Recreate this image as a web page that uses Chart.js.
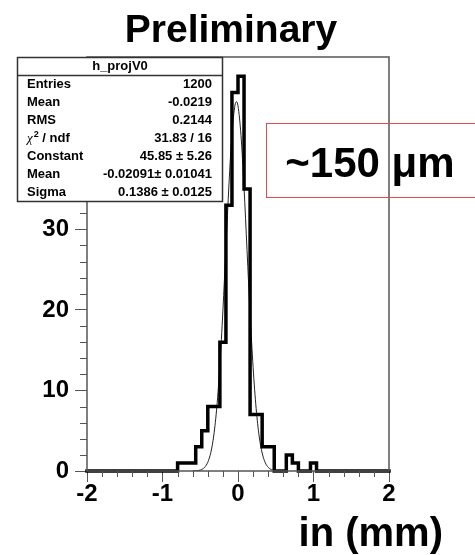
<!DOCTYPE html>
<html><head><meta charset="utf-8">
<script src="https://cdn.jsdelivr.net/npm/chart.js@4.4.0/dist/chart.umd.min.js"></script>
<style>html,body{margin:0;padding:0;background:#fff;overflow:hidden}</style>
</head><body>
<canvas id="c" width="475" height="555"></canvas>
<script>
// ---- data ----
const binLowEdges = [-2.00,-1.92,-1.84,-1.76,-1.68,-1.60,-1.52,-1.44,-1.36,-1.28,-1.20,-1.12,-1.04,-0.96,-0.88,
  -0.80,-0.72,-0.64,-0.56,-0.48,-0.40,-0.32,-0.24,-0.16,-0.08,
  0.00,0.08,0.16,0.24,0.32,0.40,0.48,0.56,0.64,0.72,0.80,0.88,0.96,1.04,1.12,1.20,1.28,1.36,1.44,1.52,1.60,1.68,1.76,1.84,1.92];
const binCounts = [0,0,0,0,0,0,0,0,0,0,0,0,0,0,0,
  1,1,1,3,5,8,8,16,33,47,
  49,35,7,7,3,3,0,0,2,1,0,0,1,0,0,0,0,0,0,0,0,0,0,0,0];
const histUpperEdge = 2.0;
const fitX = [-0.60,-0.56,-0.52,-0.48,-0.44,-0.40,-0.36,-0.32,-0.28,-0.24,-0.20,-0.16,-0.12,-0.08,-0.04,-0.02,0.00,0.04,0.08,0.12,0.16,0.20,0.24,0.28,0.32,0.36,0.40,0.44,0.48,0.52,0.56];
const fitY = [0.01,0.02,0.07,0.19,0.47,1.09,2.30,4.47,7.99,13.14,19.89,27.71,35.51,41.87,45.41,45.85,45.33,41.63,35.18,27.35,19.56,12.88,7.80,4.34,2.23,1.05,0.46,0.18,0.07,0.02,0.01];
const xMajorTicks = [-2,-1,0,1,2];
const xMinorTicks = [-1.8,-1.6,-1.4,-1.2,-0.8,-0.6,-0.4,-0.2,0.2,0.4,0.6,0.8,1.2,1.4,1.6,1.8];
const yMajorTicks = [0,10,20,30,40,50];
const yMinorTicks = [2,4,6,8,12,14,16,18,22,24,26,28,32,34,36,38,42,44,46,48];
const xRange = [-2, 2];
const yRange = [0, 51.4];
const histName = 'h_projV0';
const statLabels = ['Entries','Mean','RMS','χ2 / ndf','Constant','Mean','Sigma'];
const statValues = ['1200','-0.0219','0.2144','31.83 / 16','45.85 ± 5.26','-0.02091± 0.01041','0.1386 ± 0.0125'];
const titleText = 'Preliminary';
const xAxisTitle = 'in (mm)';
const annotationText = '~150 μm';

// ---- build datasets ----
const histPoints = binLowEdges.map((e, i) => ({x: e, y: binCounts[i]}));
histPoints.push({x: histUpperEdge, y: binCounts[binCounts.length - 1]});
const fitPoints = fitX.map((x, i) => ({x: x, y: fitY[i]}));

const FONT = '"Liberation Sans", Arial, Helvetica, sans-serif';

const decor = {
  id: 'decor',
  afterDatasetsDraw(chart) {
    const ctx = chart.ctx, a = chart.chartArea;
    const xs = chart.scales.x, ys = chart.scales.y;
    ctx.save();
    ctx.strokeStyle = '#555';
    ctx.lineWidth = 1.5;
    ctx.strokeRect(a.left, a.top, a.right - a.left, a.bottom - a.top);
    ctx.lineWidth = 1;
    ctx.beginPath();
    xMinorTicks.forEach(v => {
      const px = Math.round(xs.getPixelForValue(v)) + 0.5;
      ctx.moveTo(px, a.bottom); ctx.lineTo(px, a.bottom + 6);
    });
    yMinorTicks.forEach(v => {
      const py = Math.round(ys.getPixelForValue(v)) + 0.5;
      ctx.moveTo(a.left, py); ctx.lineTo(a.left - 7, py);
    });
    ctx.stroke();
    ctx.restore();
  },
  afterDraw(chart) {
    const ctx = chart.ctx;
    ctx.save();
    // stats box
    const bx = 17.5, by = 57.5, bw = 205, bh = 144;
    ctx.fillStyle = '#fff';
    ctx.fillRect(bx, by, bw, bh);
    ctx.strokeStyle = '#333';
    ctx.lineWidth = 1.5;
    ctx.strokeRect(bx, by, bw, bh);
    ctx.beginPath(); ctx.moveTo(bx, 75.5); ctx.lineTo(bx + bw, 75.5); ctx.stroke();
    ctx.fillStyle = '#000';
    ctx.textBaseline = 'middle';
    ctx.font = 'bold 13px ' + FONT;
    ctx.textAlign = 'center';
    ctx.fillText(histName, bx + bw / 2, 66);
    statLabels.forEach((lab, i) => {
      const y = 84 + i * 18.05;
      ctx.textAlign = 'left';
      if (lab.startsWith('χ')) {
        ctx.font = 'italic 13px "Liberation Serif", serif';
        ctx.fillText('χ', 27, y);
        let w = ctx.measureText('χ').width;
        ctx.font = 'bold 9px ' + FONT;
        ctx.fillText(lab.charAt(1), 27 + w + 1, y - 4);
        let w2 = ctx.measureText(lab.charAt(1)).width;
        ctx.font = 'bold 13px ' + FONT;
        ctx.fillText(lab.slice(2), 27 + w + 1 + w2, y);
      } else {
        ctx.font = 'bold 13px ' + FONT;
        ctx.fillText(lab, 27, y);
      }
      ctx.font = 'bold 13px ' + FONT;
      ctx.textAlign = 'right';
      ctx.fillText(statValues[i], 212, y);
    });
    // title
    ctx.textBaseline = 'alphabetic';
    ctx.textAlign = 'center';
    ctx.font = 'bold 39px ' + FONT;
    ctx.fillText(titleText, 231, 42);
    // x axis title
    ctx.font = 'bold 40px ' + FONT;
    ctx.textAlign = 'right';
    ctx.fillText(xAxisTitle, 443, 546);
    // annotation box
    ctx.strokeStyle = '#e84848';
    ctx.lineWidth = 1;
    ctx.strokeRect(266.5, 123.5, 230, 74);
    ctx.textAlign = 'center';
    ctx.font = 'bold 42px ' + FONT;
    ctx.fillText(annotationText, 370, 177);
    ctx.restore();
  }
};

new Chart(document.getElementById('c'), {
  type: 'line',
  data: {
    datasets: [
      {data: histPoints, stepped: 'before', borderColor: '#000', borderWidth: 3.5, pointRadius: 0, fill: false, clip: false, borderJoinStyle: 'miter', borderCapStyle: 'square'},
      {data: fitPoints, borderColor: '#222', borderWidth: 1, pointRadius: 0, fill: false, cubicInterpolationMode: 'monotone'}
    ]
  },
  options: {
    responsive: false,
    devicePixelRatio: 1,
    animation: false,
    events: [],
    layout: {padding: {top: 57, left: 0, right: 86, bottom: 0}},
    plugins: {legend: {display: false}, tooltip: {enabled: false}, title: {display: false}},
    scales: {
      x: {
        type: 'linear', min: xRange[0], max: xRange[1],
        afterBuildTicks: s => { s.ticks = xMajorTicks.map(v => ({value: v})); },
        afterFit: s => { s.height = 84; },
        border: {display: false},
        grid: {drawOnChartArea: false, drawTicks: true, tickLength: 11, color: '#555', lineWidth: 1},
        ticks: {color: '#000', font: {family: FONT, size: 24, weight: 'bold'}, padding: -2, maxRotation: 0, autoSkip: false,
          callback: v => String(v)}
      },
      y: {
        type: 'linear', min: yRange[0], max: yRange[1],
        afterBuildTicks: s => { s.ticks = yMajorTicks.map(v => ({value: v})); },
        afterFit: s => { s.width = 87; },
        border: {display: false},
        grid: {drawOnChartArea: false, drawTicks: true, tickLength: 12, color: '#555', lineWidth: 1},
        ticks: {color: '#000', font: {family: FONT, size: 24, weight: 'bold'}, padding: 6, autoSkip: false,
          callback: v => String(v)}
      }
    }
  },
  plugins: [decor]
});
</script>
</body></html>
